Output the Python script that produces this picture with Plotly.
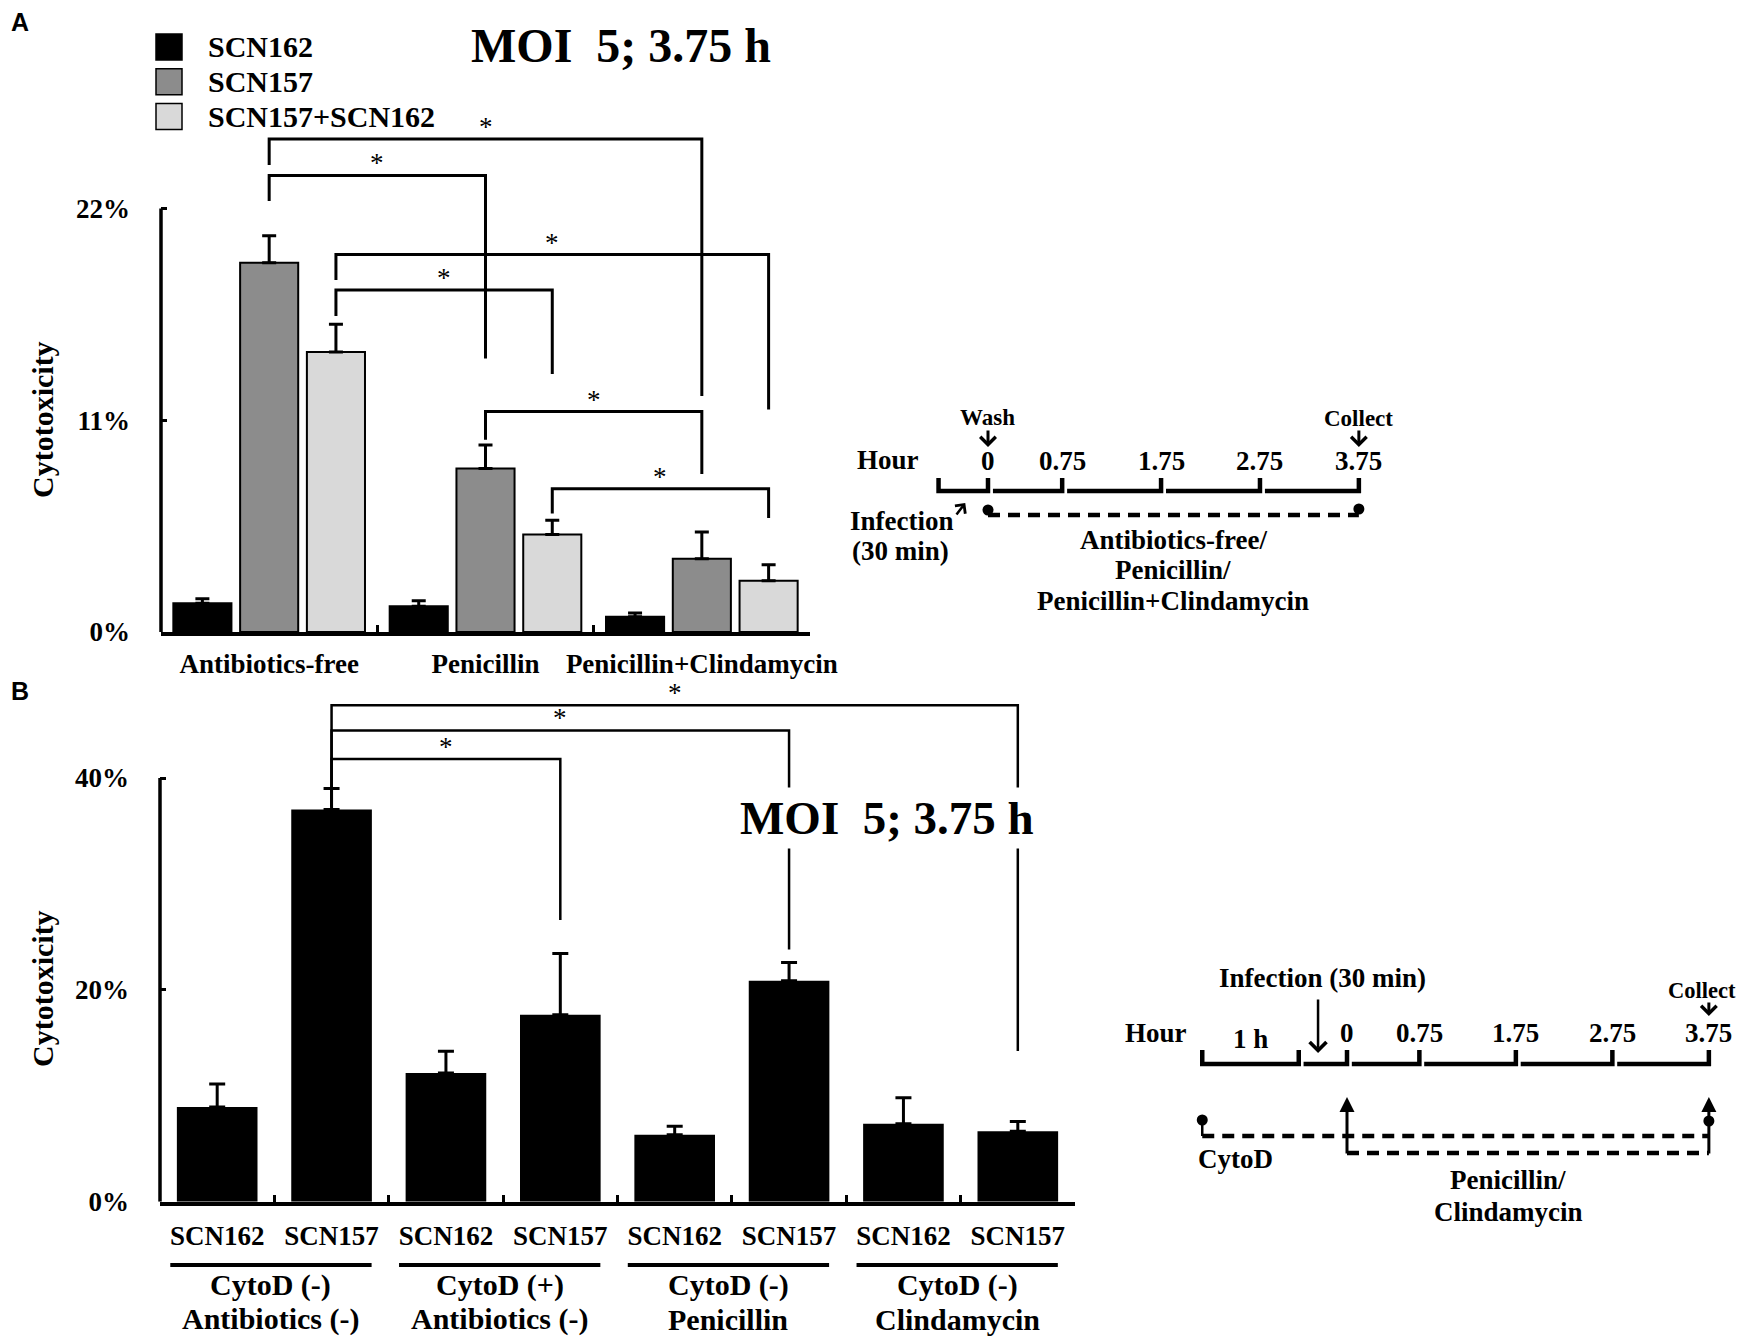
import plotly.graph_objects as go

W, H = 1748, 1339
OFF = 8  # page body margin that shifts the whole figure


def px(x):
    return (x - OFF) / W


def py(y):
    return 1 - (y - OFF) / H


SERIF = "Liberation Serif"


def bold(size):
    return dict(family=SERIF, size=size, color="black", weight="bold")


# ---------------- panel A data ----------------
treatments_a = ["Antibiotics-free", "Penicillin", "Penicillin+Clindamycin"]
strains_a = ["SCN162", "SCN157", "SCN157+SCN162"]
colors_a = ["#000000", "#8c8c8c", "#d9d9d9"]
scn162_a = [1.50, 1.34, 0.79]
scn162_err_a = [0.23, 0.28, 0.20]
scn157_a = [19.18, 8.50, 3.81]
scn157_err_a = [1.41, 1.21, 1.39]
mix_a = [14.54, 5.06, 2.66]
mix_err_a = [1.45, 0.74, 0.83]
yticks_a = [0, 11, 22]

# brackets: (group, strain) -> (group, strain), bracket level, left leg end, right leg end
sig_a = [
    ((0, 1), (2, 1), 25.61, 24.26, 12.26),
    ((0, 1), (1, 1), 23.72, 22.39, 14.21),
    ((0, 2), (2, 2), 19.61, 18.29, 11.56),
    ((0, 2), (1, 2), 17.77, 16.42, 13.40),
    ((1, 1), (2, 1), 11.45, 9.99, 8.21),
    ((1, 2), (2, 2), 7.44, 6.16, 5.92),
]

# ---------------- panel B data ----------------
strains_b = ["SCN162", "SCN157"]
cond_top_b = ["CytoD (-)", "CytoD (+)", "CytoD (-)", "CytoD (-)"]
cond_bottom_b = ["Antibiotics (-)", "Antibiotics (-)", "Penicillin", "Clindamycin"]
values_b = [8.94, 37.03, 12.15, 17.65, 6.33, 20.85, 7.36, 6.65]
errors_b = [2.18, 1.97, 2.05, 5.77, 0.79, 1.74, 2.45, 0.91]
yticks_b = [0, 20, 40]

# brackets: bar index -> bar index, level, left leg end, right leg end
sig_b = [
    (1, 7, 46.86, 37.3, 14.23),
    (1, 5, 44.49, 37.3, 23.8),
    (1, 3, 41.80, 37.3, 26.6),
]

# ---------------- timelines (hours) ----------------
bounds_a = [-0.5, 0, 0.75, 1.75, 2.75, 3.75]
bounds_b = [-1.5, -0.5, 0, 0.75, 1.75, 2.75, 3.75]
hour_labels = [0, 0.75, 1.75, 2.75, 3.75]
treat_a = (0, 3.75)
cytod_b = (-1.5, 3.75)
antibiotic_b = (0, 3.75)

# ---------------- geometry ----------------
A_Y0, A_TOP, A_PX = 632, 100, (632 - 208.5) / 22
B_Y0, B_TOP, B_PX = 1201.7, 680, (1201.7 - 778) / 40
BARGAP_A = 0.074
SLOT_A = (1 - BARGAP_A) / 3
TA0, TAS = 988, 98.9
TB0, TBS = 1347, 96.5

fig = go.Figure()

series_a = [(scn162_a, scn162_err_a), (scn157_a, scn157_err_a), (mix_a, mix_err_a)]
for name, color, (vals, errs) in zip(strains_a, colors_a, series_a):
    fig.add_trace(go.Bar(
        x=treatments_a, y=vals, name=name, showlegend=False,
        marker=dict(color=color, line=dict(color="black", width=2)),
        error_y=dict(type="data", symmetric=False, array=errs,
                     arrayminus=[0] * len(errs), color="black",
                     thickness=3, width=7),
        xaxis="x", yaxis="y"))

cats_b = [f"{s} {t} {b}" for t, b in zip(cond_top_b, cond_bottom_b) for s in strains_b]
ticktext_b = [s for _ in cond_top_b for s in strains_b]
fig.add_trace(go.Bar(
    x=cats_b, y=values_b, showlegend=False, width=0.705, offset=-0.3525,
    marker=dict(color="black", line=dict(width=0)),
    error_y=dict(type="data", symmetric=False, array=errors_b,
                 arrayminus=[0] * len(errors_b), color="black",
                 thickness=3, width=8),
    xaxis="x2", yaxis="y2"))


def segments(bounds, base, top, gap=0.05):
    xs, ys = [], []
    for i, (a, b) in enumerate(zip(bounds[:-1], bounds[1:])):
        if i == 0:
            xs += [a, a]
            ys += [top, base]
        else:
            xs += [a + gap]
            ys += [base]
        xs += [b, b, None]
        ys += [base, top, None]
    return xs, ys


line_style = dict(color="black", width=4.5)
dash_style = dict(color="black", width=4.5, dash="12px,8px")

# timeline A
xs, ys = segments(bounds_a, 491, 478)
fig.add_trace(go.Scatter(x=xs, y=ys, mode="lines", line=line_style,
                         showlegend=False, xaxis="x3", yaxis="y3"))
fig.add_trace(go.Scatter(x=list(treat_a), y=[515, 515], mode="lines", line=dash_style,
                         showlegend=False, xaxis="x3", yaxis="y3"))
fig.add_trace(go.Scatter(x=list(treat_a), y=[510, 509], mode="markers",
                         marker=dict(color="black", size=11),
                         showlegend=False, xaxis="x3", yaxis="y3"))

# timeline B
xs, ys = segments(bounds_b, 1064, 1050)
fig.add_trace(go.Scatter(x=xs, y=ys, mode="lines", line=line_style,
                         showlegend=False, xaxis="x4", yaxis="y4"))
fig.add_trace(go.Scatter(x=list(cytod_b), y=[1136, 1136], mode="lines", line=dash_style,
                         showlegend=False, xaxis="x4", yaxis="y4"))
fig.add_trace(go.Scatter(x=list(antibiotic_b), y=[1153, 1153], mode="lines", line=dash_style,
                         showlegend=False, xaxis="x4", yaxis="y4"))
fig.add_trace(go.Scatter(x=[cytod_b[0], cytod_b[0]], y=[1120, 1136], mode="lines",
                         line=dict(color="black", width=2.5),
                         showlegend=False, xaxis="x4", yaxis="y4"))
fig.add_trace(go.Scatter(x=list(cytod_b), y=[1120, 1121], mode="markers",
                         marker=dict(color="black", size=11),
                         showlegend=False, xaxis="x4", yaxis="y4"))

# ---------------- shapes ----------------
shapes = []
shapes.append(dict(type="line", xref="x domain", yref="y", x0=0, x1=0, y0=0, y1=22,
                   line=dict(color="black", width=3.5)))
shapes.append(dict(type="line", xref="x2 domain", yref="y2", x0=0, x1=0, y0=0, y1=40,
                   line=dict(color="black", width=3.5)))

annotations = []


def text(x, y, s, size, xref="paper", yref="paper", **kw):
    if xref == "paper":
        x = px(x)
    if yref == "paper":
        y = py(y)
    kw.setdefault("xanchor", "center")
    kw.setdefault("yanchor", "middle")
    annotations.append(dict(x=x, y=y, xref=xref, yref=yref, text=s, showarrow=False,
                            font=kw.pop("font", bold(size)), **kw))


def arrow(xref, yref, x, y, ax, ay, head, size=1.0, width=2.5):
    annotations.append(dict(xref=xref, yref=yref, x=x, y=y, axref=xref, ayref=yref,
                            ax=ax, ay=ay, text="", showarrow=True, arrowhead=head,
                            arrowsize=size, arrowwidth=width, arrowcolor="black"))


star_font = dict(family=SERIF, size=27, color="black")

for (ga, ka), (gb, kb), top, le, re in sig_a:
    xa = ga + (ka - 1) * SLOT_A
    xb = gb + (kb - 1) * SLOT_A
    shapes.append(dict(type="path", xref="x", yref="y",
                       path=f"M{xa},{le} L{xa},{top} L{xb},{top} L{xb},{re}",
                       line=dict(color="black", width=3)))
    text((xa + xb) / 2, top, "*", 27, xref="x", yref="y", yanchor="bottom",
         yshift=-5, font=star_font)

for a, b, top, le, re in sig_b:
    shapes.append(dict(type="path", xref="x2", yref="y2",
                       path=f"M{a},{le} L{a},{top} L{b},{top} L{b},{re}",
                       line=dict(color="black", width=2.5)))
    text((a + b) / 2, top, "*", 27, xref="x2", yref="y2", yanchor="bottom",
         yshift=-5, font=star_font)

# group underlines and labels for B
for g, (t, b) in enumerate(zip(cond_top_b, cond_bottom_b)):
    c = 2 * g + 0.47
    shapes.append(dict(type="line", xref="x2", yref="paper", x0=c - 0.88, x1=c + 0.88,
                       y0=py(1265), y1=py(1265), line=dict(color="black", width=4)))
    text(c, 1285, t, 30, xref="x2")
    text(c, 1319, b, 30, xref="x2")

# legend A
for i, (name, color) in enumerate(zip(strains_a, colors_a)):
    cy = 47 + 34.7 * i
    shapes.append(dict(type="rect", xref="paper", yref="paper",
                       x0=px(156), x1=px(182), y0=py(cy + 13), y1=py(cy - 13),
                       fillcolor=color, line=dict(color="black", width=1.5)))
    text(206, cy, name, 30, xanchor="left")

# titles / panel letters
text(621, 46, "MOI\u00a0 5; 3.75 h", 48)
text(887, 818, "MOI\u00a0 5; 3.75 h", 47, bgcolor="white", borderpad=4)
sans = dict(family="Liberation Sans", size=25, color="black", weight="bold")
text(9, 22, "A", 25, xanchor="left", font=sans)
text(9, 691, "B", 25, xanchor="left", font=sans)
text(42, 420, "Cytotoxicity", 30, textangle=-90)
text(42, 989, "Cytotoxicity", 30, textangle=-90)

# timeline A text
text(888, 460, "Hour", 27)
for h in hour_labels:
    text(h, 461, f"{h:g}", 27, xref="x3", yref="y3")
text(treat_a[0], 418, "Wash", 23, xref="x3", yref="y3")
text(treat_a[1], 419, "Collect", 23, xref="x3", yref="y3")
arrow("x3", "y3", treat_a[0], 447, treat_a[0], 429, 4, 1.0, 3)
arrow("x3", "y3", treat_a[1], 447, treat_a[1], 429, 4, 1.0, 3)
text(902, 521, "Infection", 27)
text(900, 551, "(30 min)", 27)
arrow("x3", "y3", -0.23, 503, -0.33, 516, 4, 1.0, 2.5)
mid_a = (treat_a[0] + treat_a[1]) / 2
text(mid_a, 540, "Antibiotics-free/", 27, xref="x3", yref="y3")
text(mid_a, 570, "Penicillin/", 27, xref="x3", yref="y3")
text(mid_a, 601, "Penicillin+Clindamycin", 27, xref="x3", yref="y3")

# timeline B text
text(1156, 1033, "Hour", 27)
text((bounds_b[0] + bounds_b[1]) / 2, 1039, "1 h", 27, xref="x4", yref="y4")
for h in hour_labels:
    text(h, 1033, f"{h:g}", 27, xref="x4", yref="y4")
text(1322, 978, "Infection (30 min)", 27)
arrow("x4", "y4", -0.3, 1053, -0.3, 998, 4, 1.3, 2.5)
text(antibiotic_b[1], 990, "Collect", 22.5, xref="x4", yref="y4", xshift=-7)
arrow("x4", "y4", antibiotic_b[1], 1016, antibiotic_b[1], 1001, 4, 1.0, 3)
for h in (antibiotic_b[0], antibiotic_b[1]):
    arrow("x4", "y4", h, 1097, h, 1155, 2, 1.0, 3)
text(cytod_b[0], 1159, "CytoD", 27, xref="x4", yref="y4", xanchor="left", xshift=-6)
text(1508, 1180, "Penicillin/", 27)
text(1508, 1212, "Clindamycin", 27)

axis_common = dict(showgrid=False, zeroline=False, fixedrange=True)

fig.update_layout(
    width=W, height=H, margin=dict(l=0, r=0, t=0, b=0, autoexpand=False),
    paper_bgcolor="white", plot_bgcolor="white",
    font=dict(family=SERIF, color="black"),
    barmode="group", bargap=BARGAP_A, bargroupgap=0.13,
    xaxis=dict(domain=[px(161), px(810)], anchor="y", type="category",
               range=[-0.5, 2.5], showline=True, linecolor="black", linewidth=3.5,
               ticks="inside", tickson="boundaries", ticklen=7, tickwidth=3,
               tickcolor="black", tickfont=bold(27), ticklabelstandoff=5,
               tickangle=0, **axis_common),
    yaxis=dict(domain=[py(A_Y0), py(A_TOP)], anchor="x",
               range=[0, (A_Y0 - A_TOP) / A_PX], showline=False,
               ticks="inside", tickvals=yticks_a,
               ticktext=[f"{v}%" for v in yticks_a], ticklen=6, tickwidth=3,
               tickcolor="black", tickfont=bold(27), ticklabelstandoff=30,
               **axis_common),
    xaxis2=dict(domain=[px(160), px(1075)], anchor="y2", type="category",
                range=[-0.5, 7.5], showline=True, linecolor="black", linewidth=3.5,
                ticks="inside", tickson="boundaries", ticklen=7, tickwidth=3,
                tickcolor="black", tickvals=cats_b, ticktext=ticktext_b,
                tickfont=bold(27), ticklabelstandoff=7, tickangle=0,
                **axis_common),
    yaxis2=dict(domain=[py(B_Y0), py(B_TOP)], anchor="x2",
                range=[0, (B_Y0 - B_TOP) / B_PX], showline=False,
                ticks="inside", tickvals=yticks_b,
                ticktext=[f"{v}%" for v in yticks_b], ticklen=6, tickwidth=3,
                tickcolor="black", tickfont=bold(27), ticklabelstandoff=30,
                **axis_common),
    xaxis3=dict(domain=[px(TA0 - TAS), px(TA0 + 4 * TAS)], range=[-1, 4],
                anchor="y3", visible=False, **axis_common),
    yaxis3=dict(domain=[py(640), py(390)], range=[640, 390], anchor="x3",
                visible=False, **axis_common),
    xaxis4=dict(domain=[px(TB0 - 2 * TBS), px(TB0 + 4 * TBS)], range=[-2, 4],
                anchor="y4", visible=False, **axis_common),
    yaxis4=dict(domain=[py(1240), py(950)], range=[1240, 950], anchor="x4",
                visible=False, **axis_common),
    shapes=shapes,
    annotations=annotations,
)

fig.write_html("out.html")
